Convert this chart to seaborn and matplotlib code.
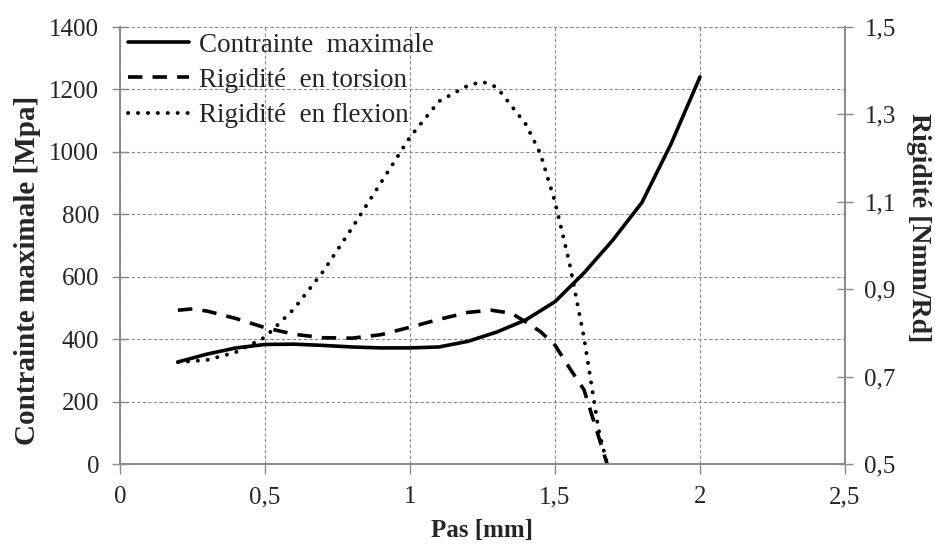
import matplotlib
matplotlib.use("Agg")
import matplotlib.pyplot as plt
import seaborn as sns
import pandas as pd

# ---- data ----
pas_contrainte = [0.2, 0.3, 0.4, 0.5, 0.6, 0.7, 0.8, 0.9, 1.0, 1.1, 1.2, 1.3, 1.4, 1.5, 1.6, 1.7, 1.8, 1.9, 2.0]
contrainte = [327, 352, 372, 383, 384, 380, 375, 372, 372, 375, 393, 423, 462, 520, 612, 718, 838, 1025, 1240]

pas_torsion = [0.2, 0.25, 0.3, 0.4, 0.5, 0.6, 0.7, 0.8, 0.9, 1.0, 1.1, 1.2, 1.28, 1.35, 1.4, 1.45, 1.5, 1.55, 1.6, 1.68]
rig_torsion = [0.852, 0.855, 0.85, 0.833, 0.812, 0.797, 0.789, 0.788, 0.796, 0.813, 0.831, 0.847, 0.852, 0.845,
               0.825, 0.803, 0.772, 0.72, 0.67, 0.5]

pas_flexion = [0.2, 0.3, 0.4, 0.5, 0.6, 0.7, 0.8, 0.9, 1.0, 1.1, 1.2, 1.25, 1.3, 1.4, 1.45, 1.5, 1.55, 1.6, 1.65, 1.68]
rig_flexion = [0.733, 0.738, 0.756, 0.79, 0.855, 0.94, 1.04, 1.144, 1.248, 1.33, 1.366, 1.375, 1.362, 1.277,
               1.21, 1.10, 0.96, 0.79, 0.58, 0.5]

x_ticks = [0, 0.5, 1, 1.5, 2, 2.5]
x_ticklabels = ["0", "0,5", "1", "1,5", "2", "2,5"]
left_ticks = [0, 200, 400, 600, 800, 1000, 1200, 1400]
right_ticks = [0.5, 0.7, 0.9, 1.1, 1.3, 1.5]
right_ticklabels = ["0,5", "0,7", "0,9", "1,1", "1,3", "1,5"]

labels = ["Contrainte  maximale", "Rigidité  en torsion", "Rigidité  en flexion"]

# ---- plotting ----
sns.set_style("white")
plt.rcParams["font.family"] = ["Liberation Serif", "DejaVu Serif"]

fig = plt.figure(figsize=(9.35, 5.47), dpi=100)
ax = fig.add_axes([0.1283, 0.1517, 0.9037 - 0.1283, 0.9506 - 0.1517])
ax2 = ax.twinx()

df_c = pd.DataFrame({"pas": pas_contrainte, "val": contrainte})
df_t = pd.DataFrame({"pas": pas_torsion, "val": rig_torsion})
df_f = pd.DataFrame({"pas": pas_flexion, "val": rig_flexion})

sns.lineplot(data=df_c, x="pas", y="val", ax=ax, color="black", linewidth=2.6,
             solid_capstyle="round", label=labels[0], legend=False)
sns.lineplot(data=df_t, x="pas", y="val", ax=ax2, color="black", linewidth=2.6,
             linestyle=(0, (4.0, 2.8)), dash_capstyle="butt", label=labels[1], legend=False)
sns.lineplot(data=df_f, x="pas", y="val", ax=ax2, color="black", linewidth=2.8,
             linestyle=(0, (0.05, 2.5)), dash_capstyle="round", label=labels[2], legend=False)

ax.set_xlim(0, 2.5)
ax.set_ylim(0, 1400)
ax2.set_ylim(0.5, 1.5)

ax.set_xticks(x_ticks)
ax.set_xticklabels(x_ticklabels)
ax.set_yticks(left_ticks)
ax2.set_yticks(right_ticks)
ax2.set_yticklabels(right_ticklabels)

gridc = "#8a8a8a"
ax.grid(True, color=gridc, linestyle=(0, (3, 2)), linewidth=0.8)
ax2.grid(False)
ax.set_axisbelow(True)

for a in (ax, ax2):
    a.spines["top"].set_visible(False)
    for s in ["left", "right", "bottom"]:
        a.spines[s].set_color("#8a8a8a")
        a.spines[s].set_linewidth(1.2)

ax.tick_params(axis="y", direction="inout", length=12, width=1, color="#8a8a8a",
               labelsize=18, pad=9, left=True)
ax.tick_params(axis="x", direction="out", length=7, width=1, color="#8a8a8a",
               labelsize=18, pad=9, bottom=True)
ax2.tick_params(axis="y", direction="inout", length=12, width=1, color="#8a8a8a",
                labelsize=18, pad=8, right=True)

ax.set_xlabel("Pas [mm]", fontsize=18, fontweight="bold", labelpad=8)
ax.set_ylabel("Contrainte maximale [Mpa]", fontsize=21, fontweight="bold", labelpad=6)
ax2.set_ylabel("Rigidité [Nmm/Rd]", fontsize=20, fontweight="bold", rotation=270, labelpad=25)
ax.yaxis.label.set_y(0.444)
ax2.yaxis.label.set_y(0.54)

h1, l1 = ax.get_legend_handles_labels()
h2, l2 = ax2.get_legend_handles_labels()
leg = ax2.legend(h1 + h2, l1 + l2, loc="upper left", frameon=False, fontsize=19.5,
                 handlelength=2.25, handletextpad=0.37, labelspacing=0.38,
                 borderaxespad=0.0, bbox_to_anchor=(-0.004, 1.012))

fig.savefig("out.png", dpi=100)
